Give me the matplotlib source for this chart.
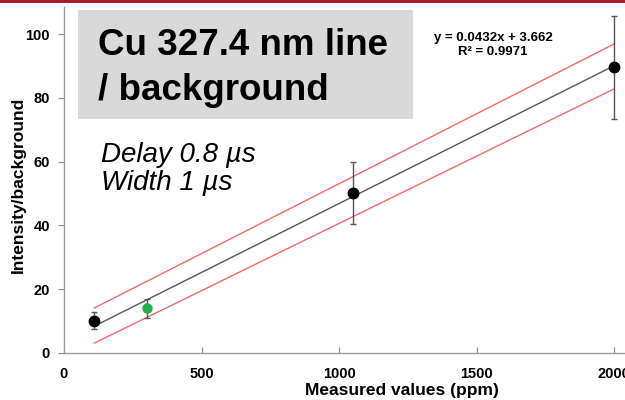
import matplotlib
matplotlib.use("Agg")
import matplotlib.pyplot as plt
from matplotlib.patches import Rectangle

plt.rcParams['font.family'] = ['Liberation Sans', 'DejaVu Sans']

# Measured concentration (ppm) vs. line intensity / background
conc = [110, 1050, 2000]
ratio = [10.1, 50.1, 89.6]
ratio_err = [2.7, 9.7, 16.2]

# Validation sample
val_conc = [300]
val_ratio = [14.0]
val_err = [2.9]

# Linear fit and prediction band end points
slope = 0.0432
intercept = 3.662
fit_x = [110, 2000]
band_upper = [14.1, 96.9]
band_lower = [3.1, 82.8]

equation = "y = 0.0432x + 3.662\nR² = 0.9971"

xticks = [0, 500, 1000, 1500, 2000]
yticks = [0, 20, 40, 60, 80, 100]

fig = plt.figure(figsize=(6.25, 4.0), dpi=100)
ax = fig.add_axes([64 / 625, 47 / 400, 1 - 64 / 625, 346 / 400])
ax.set_xlim(0, 2040)
ax.set_ylim(0, 108.5)

fit_y = [slope * x + intercept for x in fit_x]
ax.plot(fit_x, fit_y, color='#555555', lw=1.0, zorder=2)
ax.plot(fit_x, band_upper, color='#f26a6a', lw=1.0, zorder=2)
ax.plot(fit_x, band_lower, color='#f26a6a', lw=1.0, zorder=2)

ax.errorbar(conc, ratio, yerr=ratio_err, fmt='o', color='black', ms=7.5,
            ecolor='#555555', elinewidth=1.0, capsize=2.5, capthick=1.0, zorder=3)
ax.errorbar(val_conc, val_ratio, yerr=val_err, fmt='o', color='#22b14c', ms=6.5,
            ecolor='#555555', elinewidth=1.0, capsize=2.5, capthick=1.0, zorder=3)

ax.set_xticks(xticks)
ax.set_yticks(yticks)
ax.tick_params(axis='x', direction='in', length=4, color='#888888', pad=10,
               labelsize=10.5)
ax.tick_params(axis='y', direction='out', length=4, color='#888888', pad=6,
               labelsize=10.5)
for lbl in ax.get_xticklabels() + ax.get_yticklabels():
    lbl.set_fontweight('bold')

for s in ('top', 'right'):
    ax.spines[s].set_visible(False)
for s in ('left', 'bottom'):
    ax.spines[s].set_color('#999999')
    ax.spines[s].set_linewidth(1.0)

# Axis titles
fig.text(402 / 625, 1 - 395 / 400, 'Measured values (ppm)', fontsize=12.5,
         fontweight='bold', ha='center', va='baseline')
fig.text(18 / 625, 1 - 185 / 400, 'Intensity/background', fontsize=12.5,
         fontweight='bold', ha='center', va='center', rotation=90)

# Title box
fig.patches.append(Rectangle((78 / 625, 1 - 119 / 400), (413 - 78) / 625, 109 / 400,
                             transform=fig.transFigure, facecolor='#d9d9d9',
                             edgecolor='none', zorder=0))
fig.text(98 / 625, 1 - 55 / 400, 'Cu 327.4 nm line', fontsize=26.5,
         fontweight='bold', ha='left', va='baseline')
fig.text(98 / 625, 1 - 100 / 400, '/ background', fontsize=26.5,
         fontweight='bold', ha='left', va='baseline')

fig.text(101 / 625, 1 - 162 / 400, 'Delay 0.8 µs', fontsize=20, style='italic',
         ha='left', va='baseline')
fig.text(101 / 625, 1 - 190 / 400, 'Width 1 µs', fontsize=20, style='italic',
         ha='left', va='baseline')

fig.text(493 / 625, 1 - 45 / 400, equation, fontsize=9.5, fontweight='bold',
         ha='center', va='center', linespacing=1.15)

# Top accent bar
fig.patches.append(Rectangle((0, 1 - 3 / 400), 1, 3 / 400, transform=fig.transFigure,
                             facecolor='#a3202a', edgecolor='none', zorder=5))

fig.savefig('out.png', dpi=100)
